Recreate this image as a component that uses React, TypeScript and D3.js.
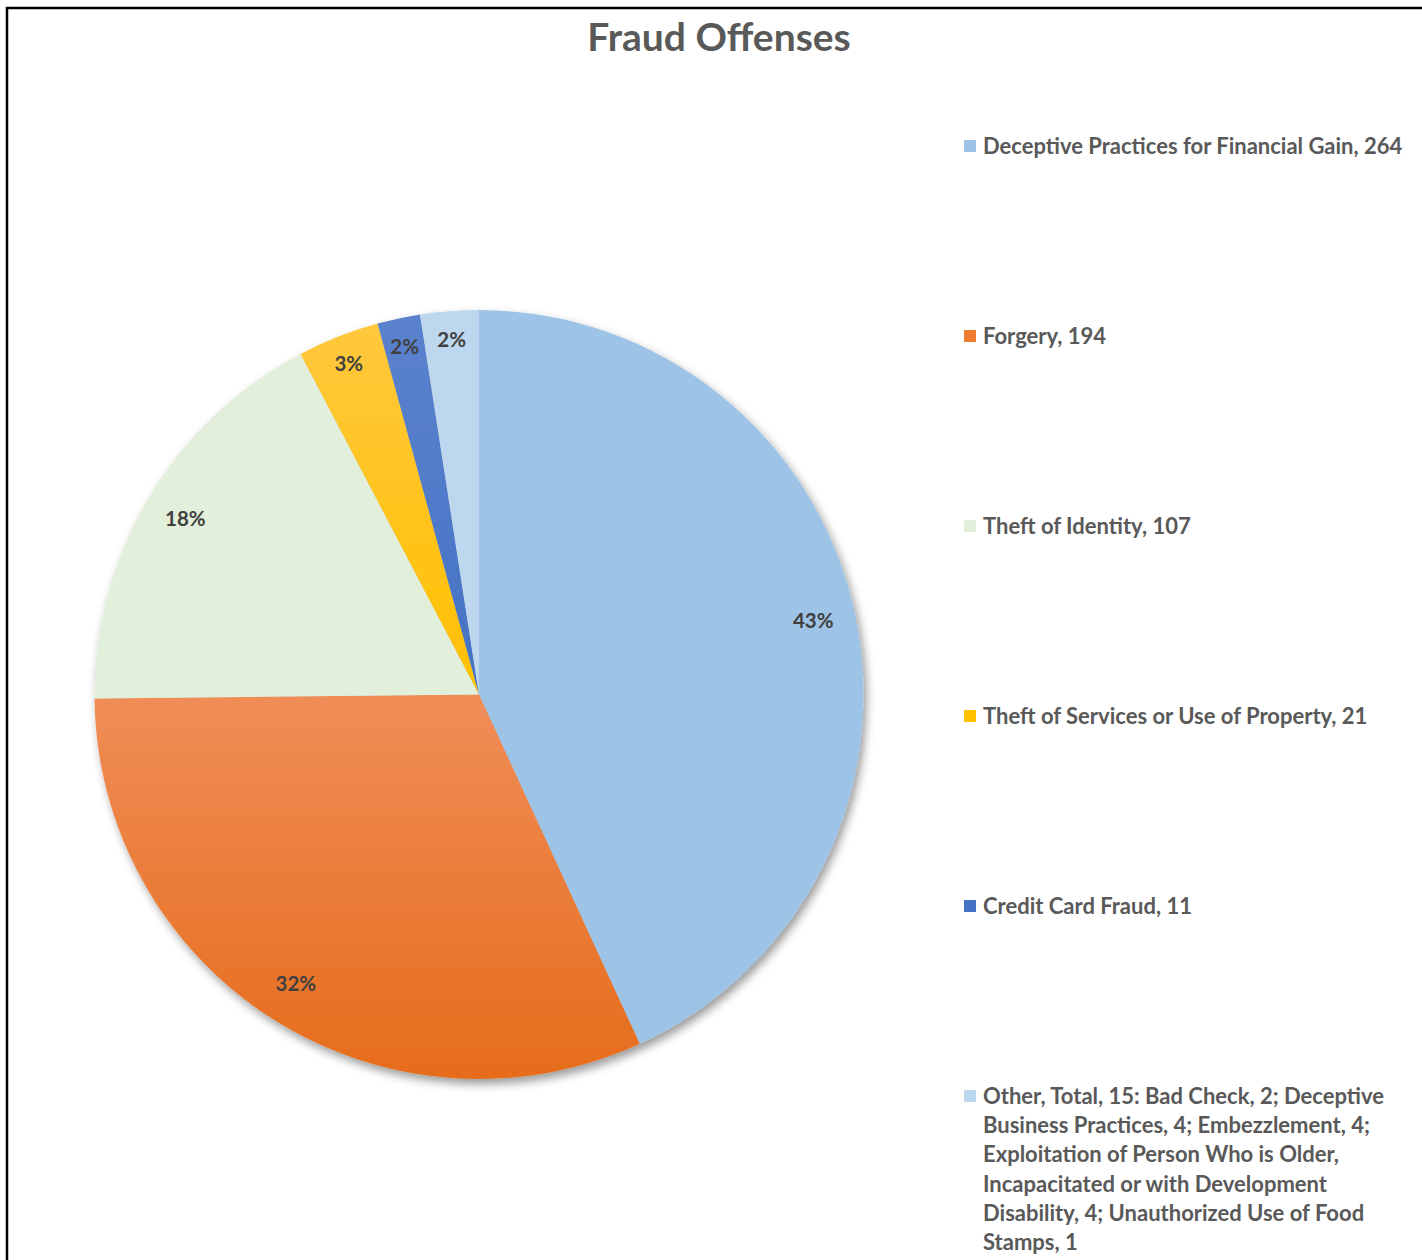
import React from "react";
import * as d3 from "d3";

const categories = [
  "Deceptive Practices for Financial Gain",
  "Forgery",
  "Theft of Identity",
  "Theft of Services or Use of Property",
  "Credit Card Fraud",
  "Other",
];
const values = [264, 194, 107, 21, 11, 15];
const legendLabels = [
  ["Deceptive Practices for Financial Gain, 264"],
  ["Forgery, 194"],
  ["Theft of Identity, 107"],
  ["Theft of Services or Use of Property, 21"],
  ["Credit Card Fraud, 11"],
  [
    "Other, Total, 15: Bad Check, 2; Deceptive",
    "Business Practices, 4; Embezzlement, 4;",
    "Exploitation of Person Who is Older,",
    "Incapacitated or with Development",
    "Disability, 4; Unauthorized Use of Food",
    "Stamps, 1",
  ],
];
const gradients = [
  ["#9DC3E6", "#9DC3E6"],
  ["#F08D57", "#E66C1B"],
  ["#E2EFDA", "#E2EFDA"],
  ["#FFC83D", "#FFC000"],
  ["#5B82CD", "#4472C4"],
  ["#BDD7EE", "#BDD7EE"],
];
const legendColors = ["#9DC3E6", "#ED7D31", "#E2EFDA", "#FFC000", "#4472C4", "#BDD7EE"];
const title = "Fraud Offenses";

const FONT = "Lato, 'Open Sans', sans-serif";

// Largest-remainder rounding so the percentages add up to 100 (as Excel shows)
function roundedPercents(vals: number[]): number[] {
  const total = d3.sum(vals);
  const raw = vals.map((v) => (v / total) * 100);
  const floors = raw.map((v) => Math.floor(v));
  let rest = 100 - d3.sum(floors);
  const order = d3.range(vals.length).sort((a, b) => (raw[b] - floors[b]) - (raw[a] - floors[a]));
  const out = floors.slice();
  for (let k = 0; k < order.length && rest > 0; k++, rest--) out[order[k]] += 1;
  return out;
}

export default function App() {
  const cx = 479;
  const cy = 694.5;
  const r = 384.5;
  const total = d3.sum(values);
  const pcts = roundedPercents(values);
  const pie = d3.pie<number>().sort(null).value((d) => d);
  const arcs = pie(values);
  const arcGen = d3.arc<d3.PieArcDatum<number>>().innerRadius(0).outerRadius(r);

  const legendY = d3.scalePoint<number>().domain(d3.range(categories.length)).range([146, 1096]);

  return (
    <svg
      width={1422}
      height={1260}
      style={{ position: "absolute", left: 0, top: 0, background: "#fff" }}
    >
      <defs>
        {gradients.map((g, i) => (
          <linearGradient key={i} id={`g${i}`} x1="0" y1="0" x2="0" y2="1">
            <stop offset="0%" stopColor={g[0]} />
            <stop offset="100%" stopColor={g[1]} />
          </linearGradient>
        ))}
        <filter id="shadow" x="-10%" y="-10%" width="120%" height="120%">
          <feDropShadow dx="3" dy="5" stdDeviation="5" floodColor="#000" floodOpacity="0.4" />
        </filter>
      </defs>
      <rect x={7} y={8} width={1440} height={1280} fill="none" stroke="#000" strokeWidth={2.5} />
      <text
        x={719}
        y={51}
        textAnchor="middle"
        fontFamily={FONT}
        fontWeight="bold"
        fontSize={39}
        fill="#595959"
      >
        {title}
      </text>
      <g transform={`translate(${cx},${cy})`}>
        <g filter="url(#shadow)">
          {arcs.map((a, i) => (
            <path key={i} d={arcGen(a) || ""} fill={`url(#g${i})`} />
          ))}
        </g>
        {arcs.map((a, i) => {
          const mid = (a.startAngle + a.endAngle) / 2;
          const frac = a.value / total;
          const lr = frac < 0.05 ? r * 0.925 : r * 0.89;
          const x = lr * Math.sin(mid);
          const y = -lr * Math.cos(mid);
          return (
            <text
              key={i}
              x={x}
              y={y}
              dy="0.35em"
              textAnchor="middle"
              fontFamily={FONT}
              fontWeight="bold"
              fontSize={20.5}
              fill="#404040"
            >
              {pcts[i]}%
            </text>
          );
        })}
      </g>
      {legendLabels.map((lines, i) => {
        const y0 = legendY(i) as number;
        return (
          <g key={i}>
            <rect x={964} y={y0 - 6} width={12} height={12} fill={legendColors[i]} />
            {lines.map((ln, j) => (
              <text
                key={j}
                x={983}
                y={y0 + j * 29.3}
                dy="0.35em"
                fontFamily={FONT}
                fontWeight="bold"
                fontSize={22}
                fill="#595959"
              >
                {ln}
              </text>
            ))}
          </g>
        );
      })}
    </svg>
  );
}
